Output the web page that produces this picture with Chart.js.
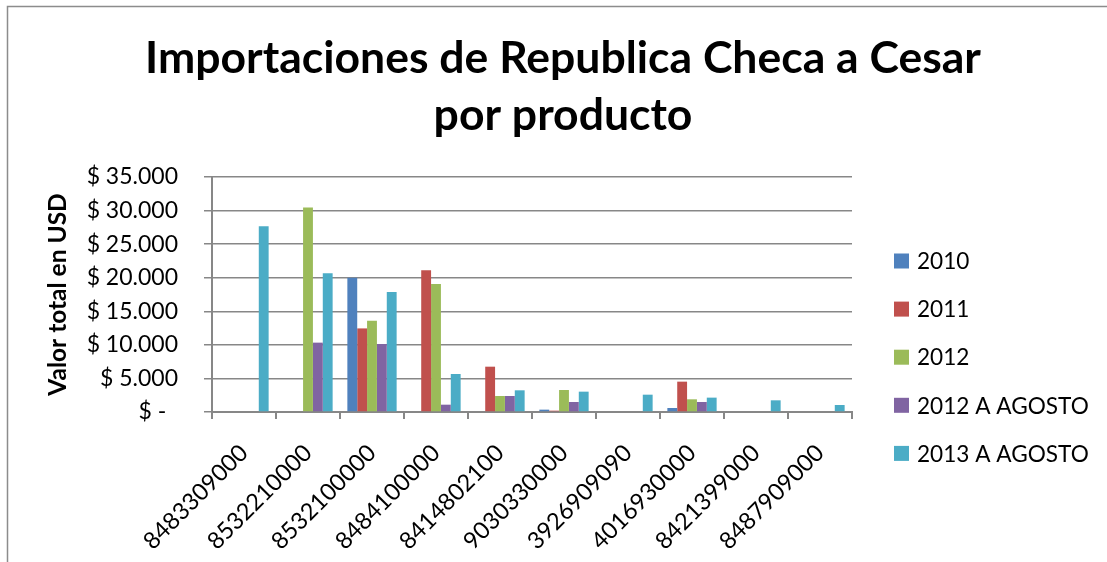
<!DOCTYPE html>
<html>
<head>
<meta charset="utf-8">
<title>Importaciones de Republica Checa a Cesar por producto</title>
<script src="https://cdn.jsdelivr.net/npm/chart.js@4/dist/chart.umd.min.js"></script>
<style>
    html, body { margin: 0; padding: 0; background: #fff; }
    #chart { display: block; }
</style>
</head>
<body>
<canvas id="chart" width="1107" height="562"></canvas>
<script>
// ── Data ───────────────────────────────────────────────────────────────
var categories = ["8483309000", "8532210000", "8532100000", "8484100000", "8414802100",
    "9030330000", "3926909090", "4016930000", "8421399000", "8487909000"];
var seriesNames = ["2010", "2011", "2012", "2012 A AGOSTO", "2013 A AGOSTO"];
var v2010 = [0, 0, 20000, 0, 0, 350, 0, 600, 0, 0];
var v2011 = [0, 0, 12450, 21100, 6750, 200, 0, 4520, 0, 0];
var v2012 = [0, 30450, 13600, 19070, 2380, 3280, 0, 1890, 0, 0];
var v2012Agosto = [0, 10330, 10130, 1090, 2380, 1490, 0, 1490, 0, 0];
var v2013Agosto = [27650, 20650, 17870, 5660, 3230, 3030, 2580, 2140, 1740, 1040];
var yTicks = [0, 5000, 10000, 15000, 20000, 25000, 30000, 35000];
var titleLines = ["Importaciones de Republica Checa a Cesar", "por producto"];
var yTitle = "Valor total en USD";

var colors = ["#4F81BD", "#C0504D", "#9BBB59", "#8064A2", "#4BACC6"];
var gridColor = "#878787";
var FONT = "Lato, 'Open Sans', sans-serif";

// ── Helpers ────────────────────────────────────────────────────────────
function money(v) {
    if (v === 0) {
        return "$ -  ";
    }
    return "$ " + String(v).replace(/\B(?=(\d{3})+(?!\d))/g, ".");
}

// title + legend drawn Excel-style (title centred on the whole sheet,
// legend to the right of the plot)
var excelDecor = {
    id: "excelDecor",
    afterDraw: function (chart) {
        var ctx = chart.ctx;
        var area = chart.chartArea;
        ctx.save();
        // sheet frame (left + top edges)
        ctx.strokeStyle = "#8c8c8c";
        ctx.lineWidth = 1.5;
        ctx.beginPath();
        ctx.moveTo(7.5, chart.height);
        ctx.lineTo(7.5, 6.5);
        ctx.lineTo(chart.width, 6.5);
        ctx.stroke();

        // title
        ctx.fillStyle = "#000";
        ctx.textAlign = "center";
        ctx.textBaseline = "alphabetic";
        ctx.font = "bold 44.5px " + FONT;
        titleLines.forEach(function (line, i) {
            ctx.fillText(line, 563, 73 + i * 57);
        });

        // legend
        ctx.textAlign = "left";
        ctx.textBaseline = "middle";
        ctx.font = "22.6px " + FONT;
        var x = area.right + 42;
        var y0 = 261;
        chart.data.datasets.forEach(function (ds, i) {
            var y = y0 + i * 48.1;
            ctx.fillStyle = ds.backgroundColor;
            ctx.fillRect(x, y - 7.5, 15, 15);
            ctx.fillStyle = "#000";
            ctx.fillText(ds.label, x + 23, y + 1);
        });
        ctx.restore();
    }
};

// ── Chart ──────────────────────────────────────────────────────────────
var seriesValues = [v2010, v2011, v2012, v2012Agosto, v2013Agosto];

new Chart(document.getElementById("chart"), {
    type: "bar",
    data: {
        labels: categories,
        datasets: seriesNames.map(function (name, i) {
            return {
                label: name,
                data: seriesValues[i],
                backgroundColor: colors[i],
                borderWidth: 0,
                categoryPercentage: 0.77,
                barPercentage: 1.0
            };
        })
    },
    options: {
        responsive: false,
        animation: false,
        devicePixelRatio: 1,
        layout: { padding: { left: 8, right: 255, top: 177, bottom: 0 } },
        plugins: {
            legend: { display: false },
            title: { display: false },
            tooltip: { enabled: false }
        },
        scales: {
            x: {
                offset: true,
                grid: {
                    offset: true,
                    drawOnChartArea: false,
                    drawTicks: true,
                    tickLength: 7,
                    lineWidth: 2,
                    color: gridColor
                },
                border: { color: gridColor, width: 2 },
                ticks: {
                    autoSkip: false,
                    minRotation: 45,
                    maxRotation: 45,
                    padding: 20,
                    color: "#000",
                    font: { family: FONT, size: 23.5 }
                },
                afterFit: function (s) { s.height = 150; }
            },
            y: {
                min: 0,
                max: 35000,
                afterBuildTicks: function (s) {
                    s.ticks = yTicks.map(function (v) { return { value: v }; });
                },
                grid: { color: gridColor, lineWidth: 1.5, tickLength: 8 },
                border: { color: gridColor, width: 2 },
                ticks: {
                    padding: 26,
                    color: "#000",
                    font: { family: FONT, size: 23 },
                    callback: function (v) { return money(v); }
                },
                title: {
                    display: true,
                    text: yTitle,
                    color: "#000",
                    font: { family: FONT, size: 24.5, weight: "bold" },
                    padding: { top: 35, bottom: 0 }
                },
                afterFit: function (s) { s.width = 204; }
            }
        }
    },
    plugins: [excelDecor]
});
</script>
</body>
</html>
